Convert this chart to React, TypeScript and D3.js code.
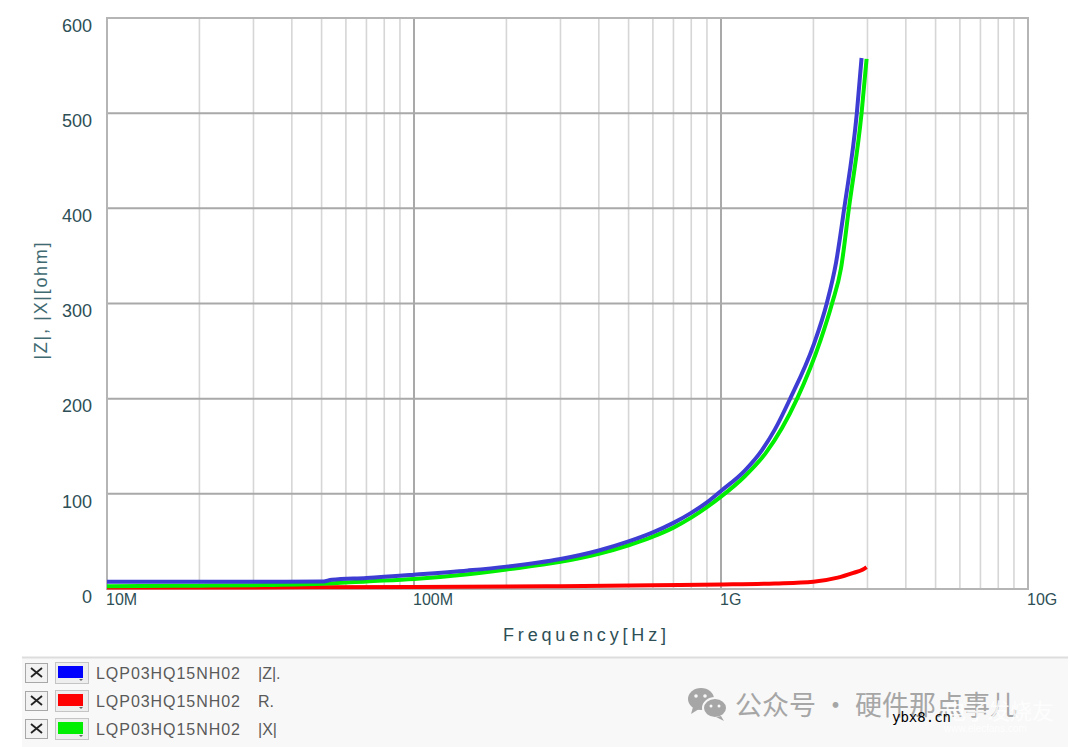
import React from "react";
import * as d3 from "d3";

// ---- data (frequency in Hz, impedance in ohm) ----
const zFreq = [1e7, 2e7, 3e7, 5e7, 5.4e7, 7e7, 1e8, 1.5e8, 2e8, 3e8, 4e8, 5e8, 6e8, 7e8, 8e8, 9e8, 1e9, 1.2e9, 1.36e9, 1.5e9, 1.68e9, 2e9, 2.21e9, 2.37e9, 2.52e9, 2.77e9, 2.87e9];
const zVals = [7.5, 7.5, 7.6, 7.8, 9.6, 11.5, 15, 19.5, 23.5, 31.5, 40.5, 50, 59.5, 69.5, 80, 91, 103, 125, 146, 168, 200, 256, 300, 343, 400, 500, 558];

const xFreq = [1e7, 2e7, 3e7, 5e7, 7e7, 1e8, 1.5e8, 2e8, 3e8, 4e8, 5e8, 6e8, 7e8, 8e8, 9e8, 1e9, 1.2e9, 1.4e9, 1.77e9, 2.11e9, 2.3e9, 2.46e9, 2.61e9, 2.87e9, 2.98e9];
const xVals = [3, 3.5, 4, 5.5, 8, 10.5, 15.5, 20.5, 28.5, 37, 46, 55, 64.5, 75, 86, 97, 119, 143, 200, 261.5, 300, 337, 400, 500, 557];

const rFreq = [1e7, 3e7, 1e8, 3e8, 6e8, 1e9, 1.5e9, 2e9, 2.4e9, 2.7e9, 2.9e9, 2.98e9];
const rVals = [1.5, 1.7, 2, 3, 4, 4.7, 5.8, 7.7, 12, 17, 20.5, 23];

const yTicks = [0, 100, 200, 300, 400, 500, 600];
const xTicks = [1e7, 1e8, 1e9, 1e10];
const xTickLabels = ["10M", "100M", "1G", "10G"];

const legendNames = ["LQP03HQ15NH02", "LQP03HQ15NH02", "LQP03HQ15NH02"];
const legendSuffix = ["|Z|.", "R.", "|X|"];
const legendColors = ["#0000ff", "#ff0000", "#00ee00"];

export default function App() {
  const W = 1070, H = 747;
  const x = d3.scaleLog().domain([1e7, 1e10]).range([107, 1028]);
  const y = d3.scaleLinear().domain([0, 600]).range([589, 18]);

  const minor: number[] = [];
  [1e7, 1e8, 1e9].forEach((d) => {
    for (let k = 2; k <= 9; k++) minor.push(d * k);
  });

  const line = d3
    .line<[number, number]>()
    .x((d) => x(d[0]))
    .y((d) => y(d[1]))
    .curve(d3.curveMonotoneX);

  const zPath = line(zFreq.map((f, i) => [f, zVals[i]]))!;
  const xPath = line(xFreq.map((f, i) => [f, xVals[i]]))!;
  const rPath = line(rFreq.map((f, i) => [f, rVals[i]]))!;

  const labelColor = "#2e4f56";
  const [x0, x1] = x.range();
  const [yb, yt] = y.range();

  return (
    <svg
      width={W}
      height={H}
      style={{ position: "absolute", left: 0, top: 0, background: "#fff" }}
      fontFamily="'Liberation Sans', Arial, sans-serif"
    >
      <rect x={0} y={0} width={W} height={H} fill="#fff" />
      {/* minor vertical grid */}
      {minor.map((f, i) => (
        <line key={"m" + i} x1={x(f)} x2={x(f)} y1={yt} y2={yb} stroke="#d6d6d6" strokeWidth={1.6} />
      ))}
      {/* major vertical grid */}
      {xTicks.map((f, i) => (
        <line key={"M" + i} x1={x(f)} x2={x(f)} y1={yt} y2={yb} stroke="#a9a9a9" strokeWidth={2} />
      ))}
      {/* horizontal grid */}
      {yTicks.map((v, i) => (
        <line key={"h" + i} x1={x0} x2={x1} y1={y(v)} y2={y(v)} stroke="#a9a9a9" strokeWidth={2} />
      ))}
      <rect x={x0} y={yt} width={x1 - x0} height={yb - yt} fill="none" stroke="#b5b5b5" strokeWidth={2} />

      {/* curves */}
      <path d={rPath} fill="none" stroke="#ff0000" strokeWidth={4} strokeLinejoin="round" />
      <path d={xPath} fill="none" stroke="#00ee00" strokeWidth={4} strokeLinejoin="round" />
      <path d={zPath} fill="none" stroke="#3d3dd4" strokeWidth={4} strokeLinejoin="round" />

      {/* y tick labels */}
      {yTicks.map((v, i) => (
        <text key={"yt" + i} x={92} y={y(v) + 1} textAnchor="end" dominantBaseline="hanging" fontSize={18} fill={labelColor}>
          {v}
        </text>
      ))}
      {/* x tick labels */}
      {xTicks.map((f, i) => (
        <text key={"xt" + i} x={x(f) - 1} y={594} dominantBaseline="hanging" fontSize={16} fill={labelColor}>
          {xTickLabels[i]}
        </text>
      ))}
      {/* axis titles */}
      <text x={503} y={641} fontSize={18} fill={labelColor} textLength={163} lengthAdjust="spacing">
        Frequency[Hz]
      </text>
      <text
        transform="translate(47,301) rotate(-90)"
        textAnchor="middle"
        fontSize={18}
        fill="#3f6a72"
        textLength={117}
        lengthAdjust="spacing"
      >
        |Z|, |X|[ohm]
      </text>

      {/* legend area */}
      <rect x={22} y={658} width={1046} height={89} fill="#f8f8f8" />
      <line x1={22} x2={1068} y1={657.5} y2={657.5} stroke="#dddddd" strokeWidth={2} />
      {legendNames.map((n, i) => {
        const cy = 673 + i * 28;
        return (
          <g key={"lg" + i}>
            <rect x={25.5} y={cy - 9.5} width={22} height={19} fill="#f2f2f2" stroke="#a8a8a8" />
            <line x1={31} x2={42} y1={cy - 5} y2={cy + 4} stroke="#222" strokeWidth={1.8} />
            <line x1={31} x2={42} y1={cy + 4} y2={cy - 5} stroke="#222" strokeWidth={1.8} />
            <rect x={55.5} y={cy - 10.5} width={33} height={21} fill="#eeeeee" stroke="#c4c4c4" />
            <rect x={58} y={cy - 7} width={25} height={12} fill={legendColors[i]} />
            <path d={`M${79},${cy + 6} L${83},${cy + 6} L${81},${cy + 8} Z`} fill="#666" />
            <text x={96} y={cy + 6} fontSize={16} fill="#5a5a5a" textLength={144} lengthAdjust="spacing">
              {n}
            </text>
            <text x={258} y={cy + 6} fontSize={16} fill="#5a5a5a">
              {legendSuffix[i]}
            </text>
          </g>
        );
      })}

      {/* watermark */}
      <g fill="#a6a6a6">
        <ellipse cx={701} cy={699} rx={13} ry={11} />
        <path d="M693,707 L691,714 L699,709 Z" />
        <ellipse cx={715} cy={708} rx={12} ry={10} fill="#a6a6a6" stroke="#f8f8f8" strokeWidth={2} />
        <path d="M721,716 L724,721 L716,717 Z" />
        <circle cx={696} cy={696} r={1.8} fill="#f8f8f8" />
        <circle cx={705} cy={696} r={1.8} fill="#f8f8f8" />
        <circle cx={711} cy={706} r={1.5} fill="#f8f8f8" />
        <circle cx={719} cy={706} r={1.5} fill="#f8f8f8" />
      </g>
      <text x={735} y={715} fontSize={27} fill="#a6a6a6" fontFamily="'Noto Sans CJK SC', sans-serif">
        公众号 · 硬件那点事儿
      </text>
      <text x={944} y={719} fontSize={22} fill="#ffffff" fillOpacity={0.85} fontFamily="'Noto Sans CJK SC', sans-serif">
        电子发烧友
      </text>
      <text x={944} y={732} fontSize={10} fill="#ffffff" fillOpacity={0.85}>
        www.elecfans.com
      </text>
      <text x={892} y={722} fontSize={14} fill="#000" fontFamily="'DejaVu Sans Mono', monospace">
        ybx8.cn
      </text>
    </svg>
  );
}
